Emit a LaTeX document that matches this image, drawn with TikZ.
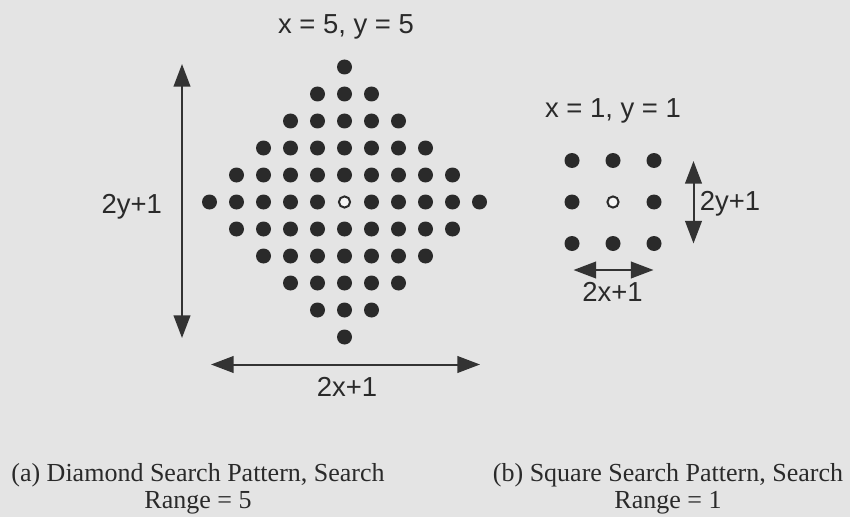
\documentclass[tikz,border=0pt]{standalone}
\usepackage{fontspec}
\setmainfont{Liberation Serif}
\setsansfont{Liberation Sans}
\usetikzlibrary{arrows.meta}
\definecolor{bgc}{HTML}{E4E4E4}
\definecolor{ink}{HTML}{2A2A2A}
\definecolor{arr}{HTML}{333333}
\begin{document}
\begin{tikzpicture}[x=0.75pt,y=-0.75pt,
  dot/.style={circle,fill=ink,inner sep=0pt,minimum size=11.25pt},
  hole/.style={circle,draw=ink,fill=white!92!gray,line width=1.5pt,inner sep=0pt,minimum size=8.4pt},
  dimarrow/.style={draw=arr,line width=1.5pt,{Triangle[length=17pt,width=12.5pt]}-{Triangle[length=17pt,width=12.5pt]}},
  lbl/.style={font=\sffamily\fontsize{20.6}{24}\selectfont,text=ink,anchor=base,inner sep=0pt},
  captext/.style={font=\rmfamily\fontsize{19.5}{19.5}\selectfont,text=ink,anchor=base,inner sep=0pt}]
\fill[bgc] (0,0) rectangle (850,517);
\useasboundingbox (0,0) rectangle (850,517);
% diamond pattern
\foreach \i in {-5,...,5}{
  \foreach \j in {-5,...,5}{
    \pgfmathtruncatemacro{\s}{abs(\i)+abs(\j)}
    \ifnum\s>5\relax\else
      \ifnum\s=0\relax
        \node[hole] (d\i\j) at ({344.5+27*\i},{202+27*\j}) {};
      \else
        \node[dot] (d\i\j) at ({344.5+27*\i},{202+27*\j}) {};
      \fi
    \fi
  }
}
% square pattern
\foreach \i in {-1,0,1}{
  \foreach \j in {-1,0,1}{
    \pgfmathtruncatemacro{\s}{abs(\i)+abs(\j)}
    \ifnum\s=0\relax
      \node[hole] (s\i\j) at ({613+41*\i},{202+41.5*\j}) {};
    \else
      \node[dot] (s\i\j) at ({613+41*\i},{202+41.5*\j}) {};
    \fi
  }
}
% dimension arrows
\coordinate (avt) at (182,64);
\coordinate (avb) at (182,338);
\coordinate (ahl) at (211,364.5);
\coordinate (ahr) at (480,364.5);
\coordinate (bvt) at (693.5,161);
\coordinate (bvb) at (693.5,243.5);
\coordinate (bhl) at (573.5,270);
\coordinate (bhr) at (653.5,270);
\draw[dimarrow] (avt) -- (avb);
\draw[dimarrow] (ahl) -- (ahr);
\draw[dimarrow] (bvt) -- (bvb);
\draw[dimarrow] (bhl) -- (bhr);
% labels
\node[lbl] (t1) at (346,33.5) {x = 5, y = 5};
\node[lbl] (t2) at (131.7,213.3) {2y+1};
\node[lbl] (t3) at (347,396.7) {2x+1};
\node[lbl] (t4) at (613,117.3) {x = 1, y = 1};
\node[lbl] (t5) at (730,210) {2y+1};
\node[lbl] (t6) at (612.5,301.7) {2x+1};
% captions
\node[captext] (c1) at (198,481.7) {(a) Diamond Search Pattern, Search};
\node[captext] (c2) at (198,508) {Range = 5};
\node[captext] (c3) at (668,481.7) {(b) Square Search Pattern, Search};
\node[captext] (c4) at (668,508) {Range = 1};
\end{tikzpicture}
\end{document}
